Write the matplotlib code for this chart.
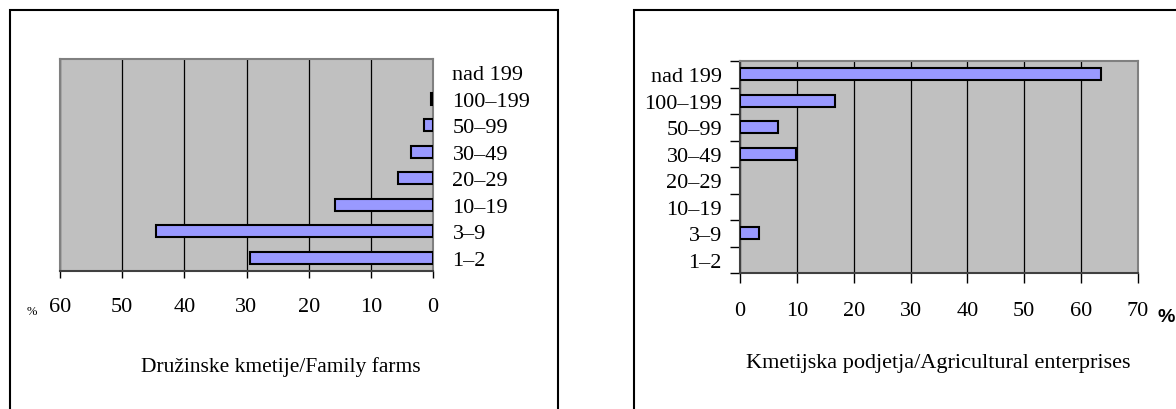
import numpy as np
from matplotlib import pyplot as plt
from matplotlib.patches import Rectangle

# size classes (ha), bottom to top
categories = ['1\u20132', '3\u20139', '10\u201319', '20\u201329', '30\u201349', '50\u201399', '100\u2013199', 'nad 199']
family_farms = [29.4, 44.5, 15.7, 5.6, 3.6, 1.4, 0.3, 0.0]
enterprises = [0.0, 3.3, 0.0, 0.0, 9.8, 6.6, 16.7, 63.5]

left_ticks = [60, 50, 40, 30, 20, 10, 0]
right_ticks = [0, 10, 20, 30, 40, 50, 60, 70]

plt.rcParams['font.family'] = ['Liberation Serif', 'DejaVu Serif']

W, H = 1176, 410
fig = plt.figure(figsize=(W/100, H/100), dpi=100)

def fx(px):
    return px / W

def fy(py):
    return 1 - py / H

# outer frames of both panels
fig.patches.append(Rectangle((fx(10), fy(430)), fx(548), fy(11) - fy(430),
                             transform=fig.transFigure, fill=False, edgecolor='black', lw=1.5))
fig.patches.append(Rectangle((fx(634), fy(430)), fx(600), fy(11) - fy(430),
                             transform=fig.transFigure, fill=False, edgecolor='black', lw=1.5))

bar_color = '#9999FF'
grey = '#C0C0C0'
ypos = np.arange(len(categories))
fs = 16

def edges(vals):
    return ['black' if v > 0 else 'none' for v in vals]

''' ----- left: family farms ----- '''
ax1 = fig.add_axes([fx(60), fy(272), fx(433 - 60), fy(60) - fy(272)])
ax1.set_facecolor(grey)
ax1.barh(ypos, family_farms, height=0.45, color=bar_color, edgecolor=edges(family_farms), lw=1.5, zorder=3)
ax1.set_xlim(60, 0)
ax1.set_ylim(-0.5, len(categories) - 0.5)
ax1.set_xticks(left_ticks)
ax1.set_xticklabels([str(t) for t in left_ticks], fontsize=fs)
ax1.tick_params(axis='x', direction='out', length=5, width=1, pad=14)
ax1.xaxis.grid(True, color='black', lw=0.9, zorder=1)
ax1.set_axisbelow(True)
ax1.yaxis.tick_right()
ax1.set_yticks(ypos)
ax1.set_yticklabels(categories, fontsize=fs)
ax1.tick_params(axis='y', length=0, pad=14)
for s in ['top', 'left', 'right']:
    ax1.spines[s].set_color('#808080')
    ax1.spines[s].set_linewidth(1.5)
ax1.spines['bottom'].set_color('#404040')
ax1.spines['bottom'].set_linewidth(1.5)
fig.text(fx(32), fy(312), '%', fontsize=9, ha='center', va='center')
fig.text(fx(281), fy(367), 'Družinske kmetije/Family farms', fontsize=15.5, ha='center', va='center')

''' ----- right: agricultural enterprises ----- '''
ax2 = fig.add_axes([fx(740), fy(274), fx(1138 - 740), fy(62) - fy(274)])
ax2.set_facecolor(grey)
ax2.barh(ypos, enterprises, height=0.45, color=bar_color, edgecolor=edges(enterprises), lw=1.5, zorder=3)
ax2.set_xlim(0, 70)
ax2.set_ylim(-0.5, len(categories) - 0.5)
ax2.set_xticks(right_ticks)
ax2.set_xticklabels([str(t) for t in right_ticks], fontsize=fs)
ax2.tick_params(axis='x', direction='out', length=7, width=1, pad=13)
ax2.xaxis.grid(True, color='black', lw=0.9, zorder=1)
ax2.set_axisbelow(True)
# boundary ticks on the major locator, labels on the minor one
ax2.set_yticks(np.arange(-0.5, len(categories), 1.0))
ax2.set_yticklabels([])
ax2.tick_params(axis='y', which='major', direction='out', length=7, width=1)
ax2.set_yticks(ypos, minor=True)
ax2.set_yticklabels(categories, minor=True, fontsize=fs)
ax2.tick_params(axis='y', which='minor', length=0, pad=13)
for s in ['top', 'right']:
    ax2.spines[s].set_color('#808080')
    ax2.spines[s].set_linewidth(1.5)
for s in ['left', 'bottom']:
    ax2.spines[s].set_color('#404040')
    ax2.spines[s].set_linewidth(1.5)
fig.text(fx(1157), fy(318), '%', fontsize=14, fontweight='bold', family='Liberation Sans',
         ha='left', va='center')
fig.text(fx(938), fy(364), 'Kmetijska podjetja/Agricultural enterprises', fontsize=16,
         ha='center', va='center')

plt.savefig('out.png', dpi=100)
plt.close()
